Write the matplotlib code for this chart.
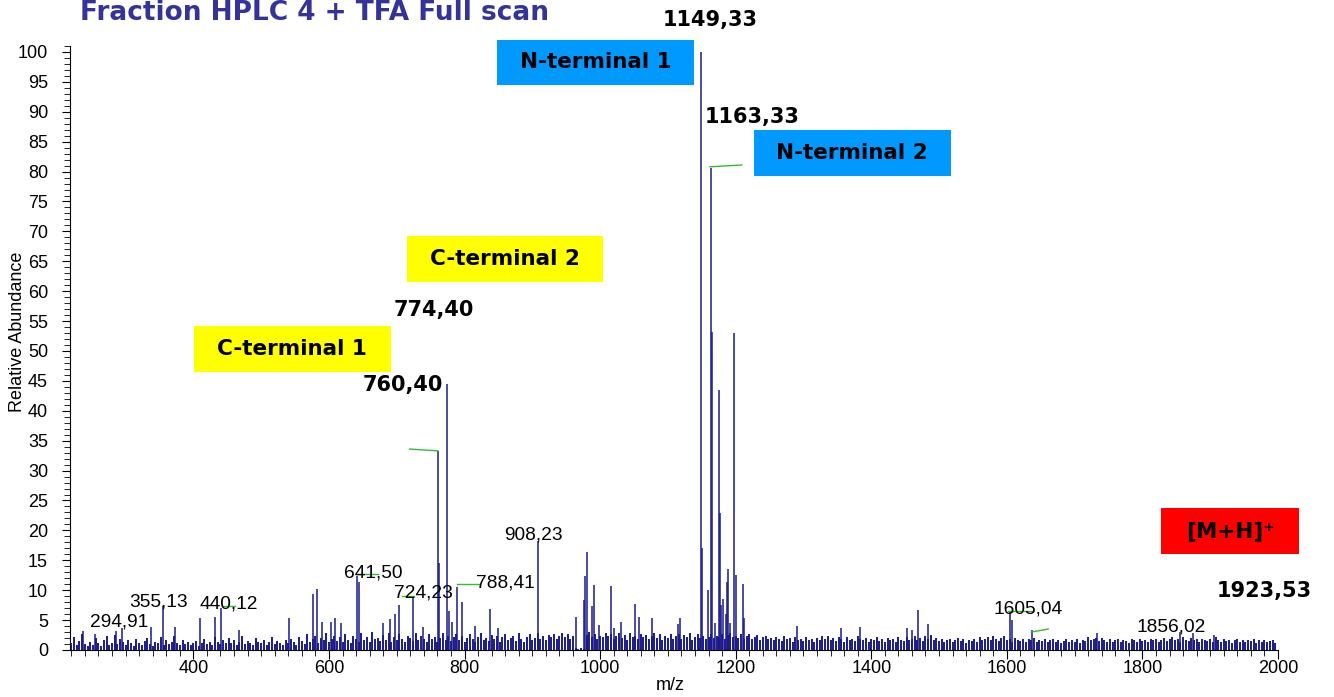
import matplotlib
matplotlib.use("Agg")
import matplotlib.pyplot as plt
from matplotlib.patches import Rectangle
from matplotlib.ticker import MultipleLocator
import numpy as np

plt.rcParams['font.family'] = ['Liberation Sans', 'DejaVu Sans']

# noise floor, one stick every 4 m/z from 216 to 1996
noise_int = [
    1.8, 1.2, 2.2, 0.8, 1.5, 2.6, 1.0, 0.6, 1.4, 0.9, 2.0, 1.1, 0.7, 1.6, 2.3, 0.9, 1.2, 2.5, 1.0, 1.8,
    1.3, 0.8, 1.6, 1.1, 0.7, 1.9, 1.2, 0.9, 1.5, 2.0, 1.0, 0.6, 1.4, 1.1, 2.2, 0.8, 1.7, 1.0, 1.3, 2.4,
    1.2, 0.9, 1.6, 1.0, 1.3, 0.8, 1.1, 1.5, 0.7, 1.2, 1.9, 1.0, 1.4, 0.8, 2.1, 1.3, 1.0, 1.7, 1.2, 2.0,
    1.1, 1.6, 0.8, 1.3, 2.4, 1.0, 1.5, 1.2, 0.9, 2.0, 1.4, 1.1, 1.7, 0.9, 1.3, 2.2, 1.0, 1.5, 1.2, 0.8,
    1.6, 1.1, 1.9, 1.3, 0.9, 2.2, 1.5, 1.0, 2.6, 1.4, 1.8, 2.3, 1.2, 2.0, 1.6, 2.8, 1.3, 1.9, 2.4, 1.5,
    2.1, 1.4, 2.6, 1.7, 1.2, 2.3, 1.9, 1.3, 2.8, 1.6, 2.2, 1.4, 3.0, 1.8, 2.0, 1.5, 2.5, 1.7, 2.9, 1.3,
    2.2, 1.6, 2.7, 1.9, 1.4, 2.4, 2.0, 1.5, 2.9, 1.7, 2.3, 1.8, 1.3, 2.6, 1.9, 2.2, 1.4, 2.0, 2.8, 1.6,
    2.3, 1.5, 2.1, 2.7, 1.7, 2.4, 1.3, 2.0, 2.6, 1.8, 1.4, 2.2, 2.9, 1.6, 2.0, 1.5, 2.5, 1.9, 2.3, 1.4,
    2.1, 2.7, 1.6, 2.0, 2.4, 1.5, 2.8, 1.9, 1.3, 2.2, 2.6, 1.7, 2.0, 2.9, 1.8, 2.3, 1.6, 2.5, 2.1, 2.7,
    1.9, 2.4, 2.8, 2.2, 2.6, 1.8, 2.3, 0.3, 0.2, 0.3, 0.2, 2.5, 3.0, 2.2, 2.7, 1.9, 2.4, 2.1, 2.8, 2.3,
    2.6, 1.9, 2.3, 2.8, 2.0, 2.5, 1.7, 2.9, 2.2, 2.4, 1.8, 2.7, 2.1, 2.5, 1.9, 2.3, 2.8, 2.0, 2.6, 1.7,
    2.4, 2.0, 2.7, 1.8, 2.3, 2.6, 1.9, 2.5, 2.1, 2.8, 1.7, 2.2, 2.6, 2.0, 2.4, 1.8, 2.2, 2.7, 2.0, 2.4,
    2.2, 2.6, 1.9, 2.5, 2.8, 2.1, 2.4, 2.0, 2.7, 1.9, 2.3, 2.6, 1.8, 2.2, 2.5, 1.7, 2.1, 2.4, 1.8, 2.0,
    1.7, 2.2, 1.9, 1.5, 2.3, 1.8, 2.0, 1.4, 2.1, 1.7, 1.9, 1.5, 2.2, 1.6, 1.8, 1.3, 2.0, 1.7, 2.3, 1.9,
    2.4, 1.6, 2.0, 1.5, 2.2, 1.8, 1.4, 2.1, 1.7, 1.9, 1.5, 2.3, 1.8, 1.6, 2.0, 1.4, 1.9, 1.7, 2.2, 1.5,
    1.8, 1.4, 2.0, 1.6, 1.9, 1.3, 2.1, 1.7, 1.5, 2.2, 1.6, 1.8, 2.4, 1.7, 2.0, 1.5, 2.3, 1.8, 2.5, 1.6,
    2.0, 1.5, 1.8, 1.3, 1.7, 1.9, 1.4, 1.6, 2.0, 1.5, 1.8, 1.2, 1.7, 1.5, 1.9, 1.4, 2.1, 1.6, 1.8, 2.2,
    1.7, 2.3, 1.9, 1.5, 2.0, 2.4, 1.6, 1.8, 1.4, 2.0, 1.7, 1.5, 1.9, 1.3, 1.8, 1.6, 2.0, 1.4, 1.7, 1.5,
    1.8, 1.3, 1.6, 1.9, 1.4, 1.7, 1.2, 1.5, 1.8, 1.3, 1.6, 1.4, 1.9, 1.2, 1.7, 1.5, 2.1, 1.6, 1.8, 2.0,
    1.5, 2.0, 1.7, 1.4, 1.8, 1.3, 1.6, 1.9, 1.4, 1.7, 1.5, 1.2, 1.8, 1.6, 1.4, 1.9, 1.5, 1.7, 1.3, 1.8,
    1.6, 1.9, 1.4, 1.7, 2.0, 1.5, 1.8, 2.1, 1.6, 1.9, 1.4, 2.2, 1.7, 1.5, 2.0, 1.6, 1.8, 1.4, 1.9, 1.7,
    1.5, 1.8, 1.3, 2.1, 1.6, 1.4, 1.9, 1.5, 1.7, 1.2, 1.6, 1.8, 1.4, 1.7, 1.3, 1.6, 1.5, 1.8, 1.2, 1.6,
    1.4, 1.7, 1.3, 1.5, 1.6, 1.2,
]
noise_mz = np.arange(216, 2000, 4)

# peaks standing out of the noise
peak_mz = [237, 255, 286, 294.91, 338, 355.13, 373, 410, 432, 440.12, 468, 541,
           577, 583, 590, 603, 609, 618, 641.50, 644, 679, 690, 697, 703, 724.23, 738,
           760.40, 762, 774.40, 777, 782, 788.41, 797, 815, 838, 850, 908.23,
           965, 976, 978, 980, 988, 991, 998, 1016, 1021, 1031, 1052, 1058, 1076, 1115, 1118,
           1149.33, 1150.7, 1159.7, 1163.33, 1165.3, 1169, 1175, 1176.5, 1178, 1182, 1185,
           1187, 1189, 1191, 1197, 1200, 1210.5, 1212, 1290, 1355, 1383, 1452, 1460, 1469,
           1484, 1605.04, 1607, 1637, 1733, 1856.02, 1874, 1906]
peak_int = [3.2, 2.6, 3.1, 3.6, 3.9, 7.3, 3.9, 5.3, 5.6, 7.1, 3.4, 5.3,
            9.4, 10.2, 4.7, 4.7, 5.4, 4.5, 12.3, 11.3, 4.5, 5.2, 6.0, 7.5, 9.0, 3.9,
            33.3, 14.5, 44.5, 6.6, 4.6, 10.6, 8.0, 4.0, 6.9, 3.6, 18.2,
            5.6, 8.3, 12.4, 16.4, 7.3, 10.8, 4.1, 10.7, 3.7, 4.6, 7.7, 5.6, 5.4, 4.3, 5.4,
            100.0, 17.1, 10.0, 80.6, 53.2, 4.5, 43.4, 22.9, 7.5, 8.6, 6.1,
            11.3, 13.6, 4.5, 53.0, 12.6, 11.1, 5.3, 4.0, 3.6, 3.8, 3.6, 3.4, 6.7,
            4.4, 6.4, 5.0, 3.4, 2.8, 3.0, 2.8, 2.5]

# small peak labels (text, m/z, height of label centre)
small_labels = ["294,91", "355,13", "440,12", "641,50", "724,23", "788,41", "908,23", "1605,04", "1856,02"]
small_label_mz = [290, 349, 452, 666, 739, 860, 901, 1631, 1843]
small_label_y = [4.7, 8.0, 7.7, 12.9, 9.5, 11.2, 19.2, 6.9, 3.8]

# bold labels
big_labels = ["1149,33", "1163,33", "774,40", "760,40", "1923,53"]
big_label_mz = [1163, 1224, 755, 709, 1980]
big_label_y = [105.4, 89.1, 56.9, 44.3, 9.9]

# coloured boxes: text, m/z left, m/z right, bottom, top, colour
box_text = ["N-terminal 1", "N-terminal 2", "C-terminal 2", "C-terminal 1", "[M+H]\u207a"]
box_x = [(848, 1138), (1227, 1517), (715, 1004), (401, 691), (1828, 2031)]
box_y = [(94.5, 102.0), (79.3, 87.0), (61.5, 69.2), (46.5, 54.2), (16.1, 23.7)]
box_col = ["#0099ff", "#0099ff", "#ffff00", "#ffff00", "#ff0000"]

# green leader marks
leaders = [((719, 760.7), (33.6, 33.3)), ((1162, 1209), (80.8, 81.1)),
           ((641, 673), (12.7, 12.7)), ((708, 725), (9.1, 9.1)),
           ((789, 821), (11.0, 11.0)), ((442, 462), (7.4, 7.4)),
           ((1601, 1639), (6.5, 6.5)), ((1636, 1661), (3.0, 3.5))]

fig = plt.figure(figsize=(13.34, 6.97), dpi=100)
ax = fig.add_axes([70 / 1334, 47 / 697, 1208 / 1334, 604 / 697])

navy = "#1a1a8c"
ax.vlines(noise_mz, 0, noise_int, color=navy, lw=1.4)
ax.vlines(peak_mz, 0, peak_int, color=navy, lw=1.1)

for (xs, ys) in leaders:
    ax.plot(xs, ys, color="#33bb33", lw=1.0)

ax.set_xlim(218, 2000)
ax.set_ylim(0, 101)
ax.spines['top'].set_visible(False)
ax.spines['right'].set_visible(False)
ax.xaxis.set_major_locator(MultipleLocator(200))
ax.xaxis.set_minor_locator(MultipleLocator(20))
ax.yaxis.set_major_locator(MultipleLocator(5))
ax.yaxis.set_minor_locator(MultipleLocator(1))
ax.tick_params(axis='x', which='major', length=6.5, labelsize=13, pad=1)
ax.tick_params(axis='x', which='minor', length=4)
ax.tick_params(axis='y', which='major', length=5.8, labelsize=13, pad=10)
ax.tick_params(axis='y', which='minor', length=4.3)

for t, x, y in zip(small_labels, small_label_mz, small_label_y):
    ax.text(x, y, t, fontsize=13.8, ha='center', va='center')

for t, x, y in zip(big_labels, big_label_mz, big_label_y):
    ax.text(x, y, t, fontsize=15, fontweight='bold', family='DejaVu Sans',
            ha='center', va='center', clip_on=False)

for t, (x0, x1), (y0, y1), c in zip(box_text, box_x, box_y, box_col):
    ax.add_patch(Rectangle((x0, y0), x1 - x0, y1 - y0, facecolor=c, edgecolor='none', clip_on=False))
    ax.text((x0 + x1) / 2, (y0 + y1) / 2, t, fontsize=15.5, fontweight='bold', family='DejaVu Sans',
            ha='center', va='center', clip_on=False)

fig.text(80 / 1334, 1 - 20 / 697, "Fraction HPLC 4 + TFA Full scan", fontsize=19,
         fontweight='bold', family='DejaVu Sans', color='#333399', ha='left', va='baseline')
fig.text(18 / 1334, 1 - 332 / 697, "Relative Abundance", fontsize=13, rotation=90,
         ha='center', va='center')
fig.text(670 / 1334, 1 - 686 / 697, "m/z", fontsize=13, ha='center', va='center')

fig.savefig("out.png", dpi=100)
